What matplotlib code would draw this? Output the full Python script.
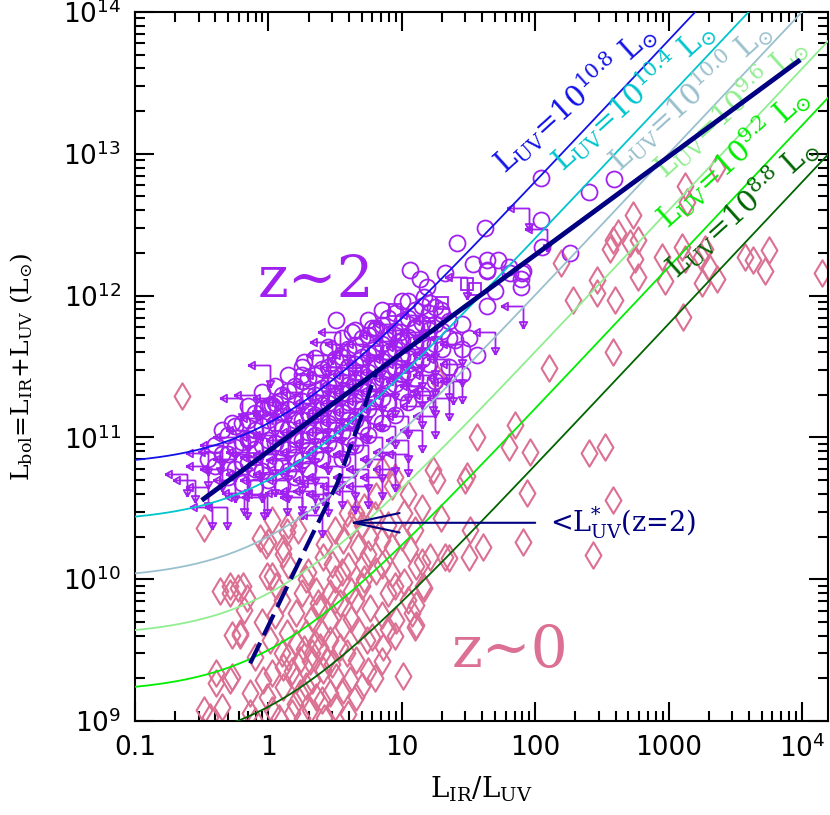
"""L_bol vs L_IR/L_UV for z~2 and z~0 galaxies."""

import matplotlib
matplotlib.use("Agg")
import matplotlib.pyplot as plt
import numpy as np
from matplotlib.path import Path
from matplotlib.ticker import FixedLocator, LogLocator, NullFormatter

plt.rcParams["mathtext.fontset"] = "dejavuserif"
plt.rcParams["mathtext.default"] = "regular"

# ---- data (log10 L_IR/L_UV, log10 L_bol) ----
z2_det_logr = [2.04, 2.40, 2.59, 1.62, 1.41, 2.04, 2.05, 2.26, 1.53, 1.64, 1.72, 1.64, 1.80,
               1.91, 1.89, 1.89, 1.70, 1.64, 1.50, 1.40, 1.56, 1.45, 1.17, 1.14, 1.06, 1.19,
               1.00, 1.32, 1.81, 1.90, 1.64, 0.51, 0.63, 0.78, 0.81, 1.11, 1.21, 1.29, 0.27,
               0.25, -0.27, -0.15, 0.01, 0.09, 0.03, -0.14, 0.99, 0.97,
               -0.40, -0.40, -0.30, -0.30, -0.30, -0.20, -0.20, -0.20, -0.20,
               -0.10, -0.10, -0.10, -0.10, -0.10, 0.00, 0.00, 0.00, 0.00, 0.00,
               0.10, 0.10, 0.10, 0.10, 0.10, 0.10, 0.20, 0.20, 0.20, 0.20, 0.20, 0.20,
               0.30, 0.30, 0.30, 0.30, 0.30, 0.30, 0.40, 0.40, 0.40, 0.40, 0.40, 0.40,
               0.50, 0.50, 0.50, 0.50, 0.50, 0.50, 0.60, 0.60, 0.60, 0.60, 0.60, 0.60,
               0.70, 0.70, 0.70, 0.70, 0.70, 0.70, 0.80, 0.80, 0.80, 0.80, 0.80, 0.80,
               0.90, 0.90, 0.90, 0.90, 0.90, 0.90, 1.00, 1.00, 1.00, 1.00, 1.00,
               1.10, 1.10, 1.10, 1.10, 1.10, 1.20, 1.20, 1.20, 1.20, 1.30, 1.30, 1.30,
               -0.45, -0.35, -0.35, -0.25, -0.25, -0.25, -0.15, -0.15, -0.15, -0.15,
               -0.05, -0.05, -0.05, -0.05, -0.05, 0.05, 0.05, 0.05, 0.05, 0.05,
               0.15, 0.15, 0.15, 0.15, 0.15, 0.15, 0.25, 0.25, 0.25, 0.25, 0.25, 0.25,
               0.35, 0.35, 0.35, 0.35, 0.35, 0.35, 0.45, 0.45, 0.45, 0.45, 0.45, 0.45,
               0.55, 0.55, 0.55, 0.55, 0.55, 0.55, 0.65, 0.65, 0.65, 0.65, 0.65, 0.65,
               0.75, 0.75, 0.75, 0.75, 0.75, 0.75, 0.85, 0.85, 0.85, 0.85, 0.85, 0.85,
               0.95, 0.95, 0.95, 0.95, 0.95, 1.05, 1.05, 1.05, 1.05, 1.05,
               1.15, 1.15, 1.15, 1.15, 1.25, 1.25, 1.25, 1.35, 1.35,
               0.55, 0.65, 0.75, 0.85, 0.95, 1.05, 1.15, 1.25, 1.35, 1.45, 1.45]
z2_det_logl = [12.83, 12.73, 12.82, 12.48, 12.37, 12.53, 12.34, 12.30, 12.22, 12.25, 12.25,
               12.18, 12.20, 12.17, 12.12, 12.06, 12.03, 11.93, 11.70, 11.69, 11.58, 11.45,
               11.99, 12.12, 12.18, 12.06, 11.96, 12.16, 12.16, 12.16, 12.17, 11.83, 11.74,
               11.77, 11.77, 11.77, 11.95, 11.90, 11.53, 11.44, 11.10, 10.99, 11.23, 11.26,
               11.23, 10.99, 11.74, 11.67,
               10.80, 10.95, 10.72, 10.88, 11.02, 10.68, 10.83, 10.97, 11.10,
               10.65, 10.78, 10.92, 11.05, 11.17, 10.70, 10.84, 10.98, 11.12, 11.22,
               10.66, 10.80, 10.93, 11.06, 11.18, 11.30, 10.72, 10.86, 10.99, 11.12, 11.24, 11.36,
               10.78, 10.91, 11.04, 11.17, 11.29, 11.42, 10.85, 10.98, 11.10, 11.23, 11.35, 11.48,
               10.92, 11.05, 11.18, 11.30, 11.42, 11.55, 11.00, 11.12, 11.25, 11.37, 11.50, 11.62,
               11.08, 11.20, 11.33, 11.45, 11.57, 11.70, 11.15, 11.28, 11.40, 11.52, 11.64, 11.76,
               11.24, 11.36, 11.48, 11.60, 11.72, 11.84, 11.32, 11.45, 11.57, 11.69, 11.82,
               11.42, 11.54, 11.66, 11.78, 11.90, 11.52, 11.64, 11.76, 11.88, 11.62, 11.75, 11.87,
               10.85, 10.88, 11.05, 10.78, 10.93, 11.08, 10.82, 10.98, 11.12, 11.22,
               10.76, 10.95, 11.08, 11.20, 11.32, 10.80, 10.96, 11.10, 11.24, 11.36,
               10.76, 10.92, 11.06, 11.20, 11.33, 11.44, 10.84, 10.98, 11.12, 11.26, 11.40, 11.50,
               10.88, 11.02, 11.16, 11.30, 11.44, 11.56, 10.96, 11.10, 11.24, 11.37, 11.50, 11.64,
               11.04, 11.18, 11.31, 11.44, 11.57, 11.70, 11.12, 11.26, 11.39, 11.52, 11.65, 11.76,
               11.20, 11.34, 11.46, 11.59, 11.72, 11.83, 11.28, 11.42, 11.54, 11.66, 11.79, 11.90,
               11.38, 11.50, 11.62, 11.75, 11.88, 11.46, 11.58, 11.71, 11.84, 11.96,
               11.55, 11.68, 11.81, 11.93, 11.66, 11.80, 11.92, 11.70, 11.82,
               10.85, 10.95, 11.02, 11.10, 11.16, 11.25, 11.30, 11.40, 11.50, 11.62, 11.80]

z2_lim_logr = [1.95, 1.91, 1.70, 2.09, 1.49, 1.45, 1.38, 1.23, 0.59, 0.01, -0.20, -0.09, 0.48,
               -0.61, -0.31, -0.01, -0.42, -0.16, -0.03, 0.14, 0.25, 0.41, -0.45, 0.40, -0.18,
               0.54, -0.36,
               -0.35, -0.35, -0.25, -0.25, -0.25, -0.15, -0.15, -0.15,
               -0.05, -0.05, -0.05, -0.05, 0.05, 0.05, 0.05, 0.05, 0.05,
               0.15, 0.15, 0.15, 0.15, 0.15, 0.25, 0.25, 0.25, 0.25, 0.25,
               0.35, 0.35, 0.35, 0.35, 0.35, 0.45, 0.45, 0.45, 0.45, 0.45, 0.45,
               0.55, 0.55, 0.55, 0.55, 0.55, 0.65, 0.65, 0.65, 0.65, 0.65,
               0.75, 0.75, 0.75, 0.75, 0.75, 0.85, 0.85, 0.85, 0.85, 0.85,
               0.95, 0.95, 0.95, 0.95, 0.95, 1.05, 1.05, 1.05, 1.05,
               1.15, 1.15, 1.15, 1.15, 1.25, 1.25, 1.25,
               0.45, 0.45, 0.55, 0.55, 0.65, 0.65, 0.65, 0.75, 0.75, 0.75, 0.85, 0.85, 0.85,
               0.95, 0.95, 0.95, 1.05, 1.05, 1.05, 1.15, 1.15, 1.15, 1.25, 1.25, 1.25,
               1.35, 1.35, 1.35, 1.45, 1.45, 0.35, 0.35, 0.25, -0.45, -0.45, -0.55]
z2_lim_logl = [12.62, 11.93, 11.74, 12.47, 12.13, 11.66, 11.39, 11.33, 11.66, 11.51, 11.28,
               11.30, 11.67, 10.74, 10.51, 10.60, 10.51, 10.58, 10.58, 10.61, 10.58, 10.68,
               10.89, 10.45, 10.61, 11.74, 10.90,
               10.78, 10.95, 10.70, 10.85, 11.00, 10.74, 10.90, 11.05,
               10.70, 10.86, 11.00, 11.14, 10.74, 10.88, 11.02, 11.16, 11.28,
               10.70, 10.84, 10.98, 11.12, 11.25, 10.76, 10.90, 11.04, 11.18, 11.32,
               10.82, 10.96, 11.10, 11.24, 11.38, 10.90, 11.04, 11.17, 11.30, 11.44, 11.58,
               10.98, 11.11, 11.24, 11.37, 11.50, 11.05, 11.18, 11.31, 11.44, 11.58,
               11.12, 11.26, 11.38, 11.51, 11.66, 11.20, 11.33, 11.46, 11.58, 11.72,
               11.30, 11.42, 11.55, 11.68, 11.80, 11.40, 11.52, 11.64, 11.76,
               11.50, 11.62, 11.74, 11.86, 11.58, 11.70, 11.82,
               10.72, 10.60, 10.66, 10.80, 10.72, 10.88, 10.62, 10.78, 10.95, 10.66, 10.85,
               11.00, 10.72, 10.90, 11.08, 10.78, 10.98, 11.15, 10.88, 11.05, 11.22, 11.36,
               11.15, 11.30, 11.44, 11.28, 11.42, 11.55, 11.40, 11.52, 10.62, 10.70, 10.62,
               10.65, 10.80, 10.70]

z2_sq_logr = [0.20, 0.50, 0.80, 1.00, 0.35, 0.65, 1.20, -0.10, 1.55, 1.30, 0.95, 1.49]
z2_sq_logl = [11.00, 11.30, 11.60, 11.50, 11.15, 11.45, 11.80, 10.85, 12.05, 11.95, 11.90, 12.08]

z0_logr = [3.36, 3.12, 3.14, 2.73, 2.58, 2.62, 2.71, 2.77, 2.56, 2.75, 2.95, 3.10, 3.12, 2.77,
           2.97, 2.19, 2.46, 2.46, 2.28, 2.60, 3.24, 3.27, 3.30, 3.25, 3.36, 3.57, 3.63, 3.75,
           3.72, 4.15, 3.11, 2.58, 2.10, 1.26,
           1.56, 1.85, 1.80, 1.96, 2.40, 2.52, 1.23, 1.26, 1.49, 1.47, 1.94, 2.58, 1.29, 1.51,
           1.61, 1.91, 2.43, 1.35, 1.50, 1.15, 1.17, 1.11, 1.11,
           0.93, 1.02, 1.32, 0.59, 0.66, 0.81, 0.72, 0.03, 0.15, 0.22, -0.02, 0.11, 0.50, 0.56,
           0.67, 0.76, 0.85, 0.93, 1.06, 1.21, 0.41, 0.48, 0.60, 0.71, 0.81, 0.93, 1.02, 1.11,
           1.16, -0.29, -0.19, 0.03, 0.06, 0.25, 0.36, 0.46, 0.37, 0.54, 0.66, 0.76, 0.85, 0.96,
           1.08, 1.10, 0.21, 0.33, 0.46, 0.56, 0.67, 0.78, 0.86, -0.21, 0.01, 0.14, 0.21, 0.27,
           0.33, 0.24, 0.31, 0.39, 0.46, 0.54, 0.44, 0.59, 0.66, 0.74, 0.41, 0.51, 0.61, 0.33,
           0.21, 0.11, 0.03, -0.04, 0.11, 0.24, 0.36, 0.46, -0.01, -0.14, -0.14, 0.03, 0.18,
           0.31, 0.56, 0.66, 1.01, -0.29,
           -0.36, -0.29, -0.23, -0.16, -0.18, -0.21, -0.39, -0.27, -0.48, 0.00, 0.14, 0.11,
           -0.01, -0.48, -0.06, -0.27, -0.39, -0.44, -0.65,
           0.85, 0.95, 1.05, 1.15, 1.10, 0.70, 0.30, 0.15, 0.50, 0.70, 0.90, 0.62, 0.40, 0.10,
           0.75, 0.85, 0.95,
           0.15, 0.28, 0.35, 0.18, 0.28, 0.40, 0.50, 0.20, 0.08, 0.25, 0.42, 0.60, 0.70, 0.80,
           0.48, 0.38, 0.50, 0.62, 0.72, 0.28, 0.42, 0.62, 0.80, 0.90, 1.00, 0.75, 0.85, 0.95,
           1.05, 0.90, 0.55, 0.10, -0.10, -0.05, 0.05, -0.35, -0.10]
z0_logl = [12.90, 12.77, 12.66, 12.57, 12.39, 12.44, 12.37, 12.39, 12.33, 12.26, 12.27, 12.34,
           12.26, 12.13, 12.10, 12.23, 12.11, 12.02, 11.97, 11.97, 12.27, 12.33, 12.20, 12.09,
           12.12, 12.27, 12.25, 12.32, 12.17, 12.16, 11.85, 11.60, 11.49, 11.42,
           11.00, 11.09, 10.93, 10.90, 10.89, 10.93, 10.77, 10.70, 10.73, 10.70, 10.61, 10.56,
           10.43, 10.35, 10.23, 10.26, 10.17, 10.15, 10.16, 10.12, 9.94, 9.82, 9.68,
           10.66, 10.47, 10.16, 10.47, 10.47, 10.59, 10.51, 10.42, 10.38, 10.35, 10.24, 10.22,
           10.35, 10.28, 10.23, 10.30, 10.28, 10.23, 10.21, 10.16, 10.16, 10.11, 10.09, 10.11,
           10.06, 10.04, 9.98, 10.09, 9.95, 9.95, 9.95, 10.02, 9.95, 9.90, 9.92, 9.90, 9.83,
           9.83, 9.85, 9.80, 9.75, 9.71, 9.76, 9.66, 9.76, 9.73, 9.71, 9.66, 9.64, 9.59, 9.52,
           9.62, 9.57, 9.62, 9.55, 9.51, 9.48, 9.43, 9.42, 9.52, 9.57, 9.52, 9.43, 9.48, 9.43,
           9.57, 9.36, 9.31, 9.29, 9.29, 9.29, 9.38, 9.34, 9.29, 9.24, 9.20, 9.17, 9.20, 9.17,
           9.20, 9.06, 9.08, 9.06, 9.08, 9.22, 9.17, 9.32, 9.29,
           9.92, 9.90, 9.94, 9.87, 9.78, 9.61, 9.34, 9.31, 10.36, 10.26, 10.33, 10.18, 10.02,
           9.08, 10.29, 9.61, 9.27, 9.03, 11.29,
           10.78, 10.72, 10.60, 10.50, 10.35, 10.38, 10.05, 10.10, 10.00, 9.95, 9.90, 9.72,
           9.62, 9.48, 9.35, 9.42, 9.60,
           9.45, 9.62, 9.55, 9.35, 9.25, 9.15, 9.10, 9.12, 9.02, 9.02, 9.02, 9.05, 9.25, 9.30,
           9.40, 9.80, 9.85, 9.92, 10.00, 10.00, 10.25, 10.38, 10.45, 10.38, 10.30, 10.18, 10.10,
           9.95, 9.85, 9.65, 10.05, 9.85, 9.45, 9.70, 9.75, 9.10, 9.00]

# constant-L_UV tracks: L_bol = L_UV (1 + L_IR/L_UV)
track_log_luv = [10.8, 10.4, 10.0, 9.6, 9.2, 8.8]
track_labels = ["10.8", "10.4", "10.0", "9.6", "9.2", "8.8"]
track_colors = ["#1212e8", "#00c5cd", "#9ac0cd", "#90ee90", "#00ee00", "#006400"]
label_logr = [1.774, 2.208, 2.636, 2.973, 2.996, 3.07]
label_logl = [12.85, 12.865, 12.865, 12.815, 12.46, 12.11]

# mean z~2 relation and L*_UV(z=2) track
fit_ratio = [0.316, 9700.0]
fit_lbol = [3.6e10, 4.6e13]
lstar_ratio = [0.73, 1.82, 3.27, 4.86, 6.5]
lstar_lbol = [2.55e9, 1.52e10, 4.7e10, 1.32e11, 3.0e11]

purple = "#a020f0"
pink = "#db7093"
navy = "#000080"

# upper-limit marker: arrow left + arrow down from the point
lim_verts = [(0, 0), (-1, 0), (-1, 0), (-0.7, 0.17), (-0.7, -0.17), (-1, 0),
             (0, 0), (0, -1), (0, -1), (0.17, -0.7), (-0.17, -0.7), (0, -1)]
lim_codes = [Path.MOVETO, Path.LINETO, Path.MOVETO, Path.LINETO, Path.LINETO, Path.LINETO,
             Path.MOVETO, Path.LINETO, Path.MOVETO, Path.LINETO, Path.LINETO, Path.LINETO]
lim_marker = Path(lim_verts, lim_codes)
diamond = Path([(0, 1), (0.6, 0), (0, -1), (-0.6, 0), (0, 1)],
               [Path.MOVETO, Path.LINETO, Path.LINETO, Path.LINETO, Path.CLOSEPOLY])

fig, ax = plt.subplots(figsize=(8.3, 8.15), dpi=100)
fig.subplots_adjust(left=0.1627, right=0.9976, bottom=0.1153, top=0.9853)

ax.plot(10 ** np.array(z0_logr), 10 ** np.array(z0_logl), ls="none", marker=diamond,
        ms=19, mfc="none", mec=pink, mew=1.5, zorder=2)
ax.plot(10 ** np.array(z2_lim_logr), 10 ** np.array(z2_lim_logl), ls="none", marker=lim_marker,
        ms=32, mfc="none", mec=purple, mew=1.3, zorder=2)
ax.plot(10 ** np.array(z2_det_logr), 10 ** np.array(z2_det_logl), ls="none", marker="o",
        ms=11.5, mfc="none", mec=purple, mew=1.3, zorder=2)
ax.plot(10 ** np.array(z2_sq_logr), 10 ** np.array(z2_sq_logl), ls="none", marker="s",
        ms=9, mfc="none", mec=purple, mew=1.3, zorder=2)

ratio = np.logspace(-1, 4.3, 300)
for lu, lab, c, tx, ty in zip(track_log_luv, track_labels, track_colors, label_logr, label_logl):
    ax.plot(ratio, 10 ** lu * (1 + ratio), color=c, lw=1.3, zorder=3)
    ax.text(10 ** tx, 10 ** ty, r"L$_{\rm UV}$=10$^{%s}$ L$_{\odot}$" % lab, color=c,
            fontsize=21, family="DejaVu Serif", rotation=42, rotation_mode="anchor",
            ha="left", va="baseline", zorder=3)

ax.plot(fit_ratio, fit_lbol, color=navy, lw=3.5, solid_capstyle="butt", zorder=4)
ax.plot(lstar_ratio, lstar_lbol, color=navy, lw=3, dashes=(5.5, 2), zorder=4)

ax.annotate("", xy=(4.0, 2.5e10), xytext=(100, 2.5e10),
            arrowprops=dict(arrowstyle="->,head_length=3.3,head_width=0.7", color=navy,
                            lw=1.5, mutation_scale=10, shrinkA=0, shrinkB=0), zorder=4)
ax.text(129, 2.5e10, r"<L$^{*}_{\rm UV}$(z=2)", color=navy, fontsize=19.5,
        family="DejaVu Serif", ha="left", va="center")

ax.text(0.835, 9.8e11, "z~2", color=purple, fontsize=42, family="DejaVu Serif",
        ha="left", va="baseline")
ax.text(23.8, 2.4e9, "z~0", color=pink, fontsize=42, family="DejaVu Serif",
        ha="left", va="baseline")

ax.set_xscale("log")
ax.set_yscale("log")
ax.set_xlim(0.1, 10 ** 4.195)
ax.set_ylim(1e9, 1e14)

ax.xaxis.set_major_locator(FixedLocator([0.1, 1, 10, 100, 1000, 1e4]))
ax.set_xticklabels(["0.1", "1", "10", "100", "1000", "$10^{4}$"])
ax.yaxis.set_major_locator(FixedLocator([1e9, 1e10, 1e11, 1e12, 1e13, 1e14]))
ax.set_yticklabels(["$10^{9}$", "$10^{10}$", "$10^{11}$", "$10^{12}$", "$10^{13}$", "$10^{14}$"])
for axis in (ax.xaxis, ax.yaxis):
    axis.set_minor_locator(LogLocator(base=10, subs=np.arange(2, 10), numticks=20))
    axis.set_minor_formatter(NullFormatter())

ax.tick_params(which="both", direction="in", top=True, right=True, width=1.5,
               labelsize=19)
ax.tick_params(which="major", length=14, pad=10)
ax.tick_params(which="minor", length=7.5)
for sp in ax.spines.values():
    sp.set_linewidth(1.5)

ax.set_xlabel(r"L$_{\rm IR}$/L$_{\rm UV}$", fontsize=20, family="DejaVu Serif", labelpad=8)
ax.set_ylabel(r"L$_{\rm bol}$=L$_{\rm IR}$+L$_{\rm UV}$ (L$_{\odot}$)", fontsize=18,
              family="DejaVu Serif")
ax.yaxis.set_label_coords(-0.145, 0.5)

plt.savefig("out.png", dpi=100)
